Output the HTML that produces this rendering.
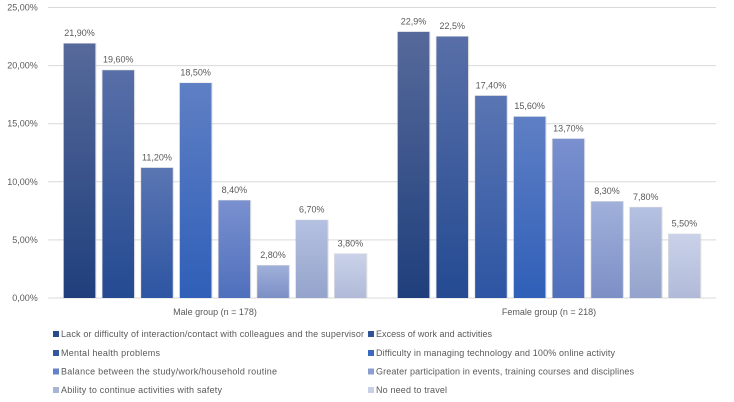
<!DOCTYPE html>
<html lang="en">
<head>
<meta charset="utf-8">
<title>Difficulties by group</title>
<style>
html,body{margin:0;padding:0;background:#fff;width:734px;height:402px;overflow:hidden}
svg{display:block;filter:blur(0.3px)}
text{font-family:"Liberation Sans",sans-serif;fill:#595959}
</style>
</head>
<body>
<svg id="chart" width="734" height="402" viewBox="0 0 734 402" xmlns="http://www.w3.org/2000/svg">
  <defs id="defs"></defs>
  <g id="grid"></g>
  <g id="ticks" font-size="9" text-anchor="end"></g>
  <g id="bars"></g>
  <g id="labels" font-size="9" text-anchor="middle"></g>
  <g id="cats" font-size="9" text-anchor="middle"></g>
  <g font-size="9">
    <g><rect x="53" y="331" width="6" height="6" fill="#2a4a8c"/><text x="61" y="337" textLength="303" lengthAdjust="spacing">Lack or difficulty of interaction/contact with colleagues and the supervisor</text></g>
    <g><rect x="368" y="331" width="6" height="6" fill="#2f5299"/><text x="376" y="337" textLength="116" lengthAdjust="spacing">Excess of work and activities</text></g>
    <g><rect x="53" y="350" width="6" height="6" fill="#34589f"/><text x="61" y="356" textLength="99" lengthAdjust="spacing">Mental health problems</text></g>
    <g><rect x="368" y="350" width="6" height="6" fill="#3c69c0"/><text x="376" y="356" textLength="239" lengthAdjust="spacing">Difficulty in managing technology and 100% online activity</text></g>
    <g><rect x="53" y="368.500" width="6" height="6" fill="#6482c8"/><text x="61" y="374.5" textLength="216" lengthAdjust="spacing">Balance between the study/work/household routine</text></g>
    <g><rect x="368" y="368.500" width="6" height="6" fill="#8c9dd0"/><text x="376" y="374.5" textLength="258" lengthAdjust="spacing">Greater participation in events, training courses and disciplines</text></g>
    <g><rect x="53" y="387" width="6" height="6" fill="#a8b4d8"/><text x="61" y="393" textLength="161" lengthAdjust="spacing">Ability to continue activities with safety</text></g>
    <g><rect x="368" y="387" width="6" height="6" fill="#c8d0e8"/><text x="376" y="393" textLength="71" lengthAdjust="spacing">No need to travel</text></g>
  </g>
</svg>
<script>
const categories = ["Male group (n = 178)", "Female group (n = 218)"];
const maleValues = [21.9, 19.6, 11.2, 18.5, 8.4, 2.8, 6.7, 3.8];
const femaleValues = [22.9, 22.5, 17.4, 15.6, 13.7, 8.3, 7.8, 5.5];
const maleLabels = ["21,90%", "19,60%", "11,20%", "18,50%", "8,40%", "2,80%", "6,70%", "3,80%"];
const femaleLabels = ["22,9%", "22,5%", "17,40%", "15,60%", "13,70%", "8,30%", "7,80%", "5,50%"];
const tickValues = [0, 5, 10, 15, 20, 25];
const tickLabels = ["0,00%", "5,00%", "10,00%", "15,00%", "20,00%", "25,00%"];
const seriesTopColors = ["#56699a", "#586fa8", "#5a75b2", "#5f7fc4", "#7a90cf", "#a0b0da", "#b5c1e1", "#cad2e9"];
const seriesBottomColors = ["#1f3f7c", "#244a92", "#2d55a3", "#2f5fb8", "#4f6fbc", "#7c8fc6", "#94a3cb", "#b0bad8"];

const SVGNS = "http://www.w3.org/2000/svg";
const plotLeft = 48, plotRight = 716, plotBottom = 298, plotTop = 7.5, axisMax = 25;
const barPitch = 38.7, barWidth = 31.6;
function yScale(v) { return plotBottom - (v / axisMax) * (plotBottom - plotTop); }
function catCenter(i) { return plotLeft + (plotRight - plotLeft) * (i + 0.5) / categories.length; }
function barX(c, s, n) { return catCenter(c) + (s - n / 2) * barPitch + (barPitch - barWidth) / 2; }
function make(tag, attrs, parent, text) {
  const el = document.createElementNS(SVGNS, tag);
  for (const k in attrs) el.setAttribute(k, attrs[k]);
  if (text !== undefined) el.textContent = text;
  parent.appendChild(el);
  return el;
}
const defs = document.getElementById("defs");
seriesTopColors.forEach(function (top, i) {
  const g = make("linearGradient", { id: "grad" + i, x1: 0, y1: 0, x2: 0, y2: 1 }, defs);
  make("stop", { offset: "0", "stop-color": top }, g);
  make("stop", { offset: "1", "stop-color": seriesBottomColors[i] }, g);
});
const gridG = document.getElementById("grid");
const ticksG = document.getElementById("ticks");
tickValues.forEach(function (t, i) {
  const line = make("line", { x1: plotLeft, x2: plotRight, y1: yScale(t), y2: yScale(t), stroke: "#d9d9d9", "stroke-width": 1 }, gridG);
  
  
  const label = make("text", { x: 37.8, y: yScale(t) + 3 }, ticksG, tickLabels[i]);
  
  
});
const barsG = document.getElementById("bars");
const labelsG = document.getElementById("labels");
const catsG = document.getElementById("cats");
[maleValues, femaleValues].forEach(function (vals, c) {
  const printed = c === 0 ? maleLabels : femaleLabels;
  vals.forEach(function (v, s) {
    const x = barX(c, s, vals.length), y = yScale(v), h = plotBottom - y;
    const shadow = make("rect", { x: x - 0.7, y: y - 0.5, width: barWidth + 1.8, height: h + 0.5, fill: "#c8c8c8", opacity: 0.55 }, barsG);
    
    
    const bar = make("rect", { x: x, y: y, width: barWidth, height: h, fill: "url(#grad" + s + ")" }, barsG);
    
    
    const t = make("text", { x: x + barWidth / 2, y: y - 7.5 }, labelsG, printed[s]);
    
    
  });
  const cat = make("text", { x: catCenter(c), y: 315 }, catsG, categories[c]);
  
  
});
</script>
</body>
</html>
